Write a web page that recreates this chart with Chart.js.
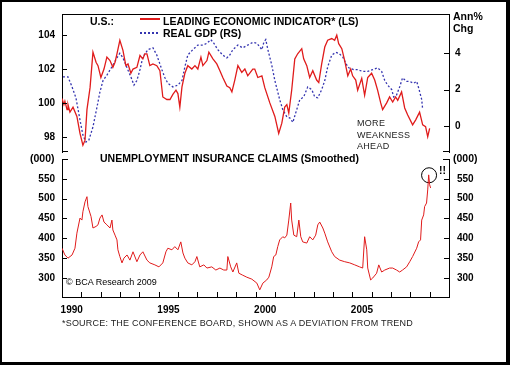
<!DOCTYPE html>
<html>
<head>
<meta charset="utf-8">
<script src="https://cdn.jsdelivr.net/npm/chart.js@4/dist/chart.umd.min.js"></script>
<style>
  html, body { margin: 0; padding: 0; background: #fff; }
  #frame {
    position: absolute; left: 0; top: 0; width: 510px; height: 365px;
    box-sizing: border-box; border: solid #000; border-width: 2px 4px 3px 2px;
  }
  canvas { position: absolute; left: 0; }
  #top { top: 0; }
  #bot { top: 150px; }
  .t {
    position: absolute; font-family: 'Liberation Sans', Arial, sans-serif;
    font-size: 10.5px; font-weight: bold; line-height: 12px; white-space: nowrap; color: #000;
  }
  .n { font-weight: normal; }
</style>
</head>
<body>
<div id="frame"></div>
<canvas id="top" width="510" height="160"></canvas>
<canvas id="bot" width="510" height="170"></canvas>

<div class="t" style="left:90px;top:15px">U.S.:</div>
<div style="position:absolute;left:140px;top:18px;width:20px;height:1.5px;background:#e01b1b"></div>
<div class="t" style="left:163px;top:15px">LEADING ECONOMIC INDICATOR* (LS)</div>
<div style="position:absolute;left:140px;top:32px;width:20px;height:1.5px;background:repeating-linear-gradient(to right,#3535b0 0 2px,transparent 2px 4px)"></div>
<div class="t" style="left:163px;top:27px">REAL GDP (RS)</div>
<div class="t" style="left:453px;top:10px">Ann%</div>
<div class="t" style="left:453px;top:22px">Chg</div>
<div class="t n" style="left:357px;top:117px;font-size:9px;letter-spacing:0.3px;color:#222">MORE</div>
<div class="t n" style="left:357px;top:129px;font-size:9px;letter-spacing:0.3px;color:#222">WEAKNESS</div>
<div class="t n" style="left:357px;top:140px;font-size:9px;letter-spacing:0.3px;color:#222">AHEAD</div>
<div class="t" style="left:30px;top:152px">(000)</div>
<div class="t" style="left:453px;top:152px">(000)</div>
<div class="t" style="left:100px;top:152px">UNEMPLOYMENT INSURANCE CLAIMS (Smoothed)</div>
<div class="t" style="left:439px;top:164px">!!</div>
<div class="t n" style="left:66px;top:276px;font-size:9px">© BCA Research 2009</div>
<div class="t n" style="left:62px;top:317px;font-size:9px;letter-spacing:0.2px;color:#222">*SOURCE: THE CONFERENCE BOARD, SHOWN AS A DEVIATION FROM TREND</div>

<script>
// --- Data (decimal years) ---
const leiYears = [1990.00,1990.10,1990.15,1990.26,1990.31,1990.41,1990.57,1990.77,1990.93,1991.08,1991.19,1991.29,1991.45,1991.60,1991.76,1991.86,1992.01,1992.17,1992.32,1992.48,1992.63,1992.74,1992.84,1992.99,1993.15,1993.30,1993.41,1993.56,1993.67,1993.87,1994.03,1994.18,1994.28,1994.39,1994.54,1994.70,1994.90,1995.06,1995.21,1995.42,1995.58,1995.73,1995.89,1995.99,1996.09,1996.20,1996.35,1996.50,1996.71,1996.87,1997.02,1997.18,1997.28,1997.49,1997.59,1997.80,1998.00,1998.16,1998.31,1998.52,1998.67,1998.78,1998.93,1999.09,1999.29,1999.45,1999.60,1999.86,1999.96,2000.12,2000.33,2000.48,2000.74,2001.00,2001.20,2001.36,2001.51,2001.62,2001.72,2001.87,2002.03,2002.18,2002.39,2002.49,2002.65,2002.80,2002.96,2003.16,2003.27,2003.42,2003.58,2003.73,2003.94,2004.09,2004.20,2004.30,2004.46,2004.61,2004.77,2004.92,2005.02,2005.18,2005.28,2005.49,2005.64,2005.80,2006.00,2006.16,2006.31,2006.47,2006.57,2006.78,2006.93,2007.09,2007.24,2007.35,2007.55,2007.71,2007.86,2008.12,2008.28,2008.48,2008.64,2008.79,2008.90,2009.00];
const leiValues = [100.26,99.9,100.1,99.6,99.9,99.45,99.75,99.2,98.2,97.5,97.8,99.6,100.9,103.0,102.4,102.2,101.5,102.0,102.7,102.5,102.1,102.4,102.9,103.7,103.1,102.2,102.3,101.75,102.0,102.1,102.8,102.6,102.9,102.9,102.2,102.3,102.2,101.9,100.35,100.2,100.2,100.5,100.75,100.55,99.75,100.95,101.75,102.2,102.0,102.2,102.0,102.7,102.2,102.5,103.0,102.6,102.3,101.9,101.5,101.0,100.9,100.65,101.35,102.2,101.8,102.0,101.6,102.0,102.0,101.5,101.6,100.9,100.0,99.2,98.2,98.8,99.75,99.9,99.4,100.75,102.6,102.9,103.2,102.6,102.2,101.5,101.9,101.35,101.2,102.3,103.3,103.7,103.8,103.7,104.0,103.5,103.2,102.5,101.6,102.0,101.6,101.35,100.75,101.45,100.45,101.5,101.75,101.35,100.75,100.0,99.6,100.0,100.35,100.05,100.35,100.15,100.65,99.7,99.3,98.7,99.0,99.45,98.7,98.6,98.0,98.5];

const gdpYears = [1990.05,1990.31,1990.52,1990.72,1990.93,1991.08,1991.24,1991.39,1991.60,1991.81,1991.96,1992.12,1992.32,1992.58,1992.84,1992.99,1993.15,1993.36,1993.56,1993.72,1993.87,1994.03,1994.18,1994.44,1994.70,1994.90,1995.16,1995.32,1995.47,1995.73,1995.99,1996.20,1996.35,1996.50,1996.76,1997.02,1997.28,1997.49,1997.69,1997.85,1998.05,1998.31,1998.52,1998.67,1998.83,1999.09,1999.34,1999.60,1999.86,2000.07,2000.22,2000.33,2000.43,2000.53,2000.64,2000.84,2001.00,2001.25,2001.41,2001.62,2001.77,2001.93,2002.13,2002.29,2002.49,2002.70,2002.91,2003.06,2003.22,2003.42,2003.58,2003.73,2003.94,2004.15,2004.30,2004.51,2004.66,2004.82,2005.07,2005.28,2005.54,2005.80,2006.06,2006.31,2006.52,2006.68,2006.83,2007.04,2007.14,2007.29,2007.45,2007.60,2007.81,2007.97,2008.17,2008.33,2008.43,2008.59,2008.64];
const gdpValues = [2.7,2.7,2.15,1.55,0.33,-0.5,-0.88,-0.77,-0.05,1.05,1.87,2.5,2.8,3.25,3.75,4.0,3.75,3.2,2.7,2.25,2.5,3.1,3.8,4.2,4.3,3.9,3.1,2.65,2.35,2.15,2.25,2.5,3.25,3.9,4.2,4.45,4.45,4.55,4.75,4.55,4.2,3.9,3.75,3.9,4.2,4.45,4.3,4.45,4.6,4.55,4.35,4.2,4.6,4.75,4.2,3.35,2.5,1.45,0.9,0.5,0.45,0.2,0.9,1.45,1.6,2.15,2.0,1.6,1.55,2.0,2.5,3.25,3.9,4.05,4.0,3.8,3.45,3.2,3.1,3.1,3.0,3.0,3.1,3.2,3.0,2.5,2.25,2.0,1.6,1.7,2.15,2.65,2.45,2.45,2.35,2.45,2.1,1.45,0.9];

const claimYears = [1990.00,1990.15,1990.31,1990.52,1990.67,1990.77,1990.93,1991.03,1991.08,1991.19,1991.29,1991.34,1991.50,1991.60,1991.76,1991.86,1991.96,1992.07,1992.17,1992.32,1992.48,1992.58,1992.63,1992.74,1992.84,1992.89,1992.99,1993.10,1993.20,1993.36,1993.51,1993.67,1993.87,1994.03,1994.18,1994.39,1994.54,1994.80,1995.01,1995.21,1995.37,1995.47,1995.68,1995.83,1995.99,1996.14,1996.25,1996.35,1996.50,1996.71,1996.87,1996.97,1997.12,1997.33,1997.49,1997.74,1997.95,1998.16,1998.36,1998.52,1998.57,1998.72,1998.83,1999.03,1999.14,1999.34,1999.55,1999.81,2000.07,2000.22,2000.38,2000.58,2000.69,2000.84,2000.94,2001.05,2001.15,2001.25,2001.41,2001.51,2001.62,2001.72,2001.82,2001.87,2001.98,2002.13,2002.24,2002.34,2002.44,2002.65,2002.80,2002.96,2003.11,2003.22,2003.32,2003.48,2003.58,2003.73,2003.94,2004.09,2004.35,2004.61,2004.87,2005.13,2005.38,2005.54,2005.64,2005.75,2005.80,2005.95,2006.06,2006.26,2006.37,2006.52,2006.68,2006.93,2007.09,2007.29,2007.45,2007.60,2007.81,2007.97,2008.12,2008.33,2008.43,2008.53,2008.59,2008.69,2008.74,2008.84,2008.90,2008.95,2009.00,2009.05];
const claimValues = [375,358,350,358,375,413,451,446,467,492,505,480,455,426,430,434,451,459,441,434,426,446,421,408,396,371,354,338,350,358,345,366,341,358,366,345,338,333,328,338,366,375,371,379,371,391,363,350,338,333,341,354,328,333,325,328,320,325,320,320,354,328,315,338,312,307,302,297,287,270,287,295,302,328,354,358,379,396,404,401,408,446,489,446,408,404,446,404,391,388,404,396,408,434,441,426,413,391,366,354,345,341,338,333,328,325,404,371,325,295,300,312,333,315,320,325,325,320,315,320,328,341,354,375,391,396,446,459,480,489,522,560,535,527];

// circled latest reading
const circleYear = [2008.97];
const circleValue = [559];

// --- Axis ticks ---
const xLabels = [1990, 1995, 2000, 2005];
const leiTicks = [98, 100, 102, 104];
const gdpTicks = [0, 2, 4];
const claimTicks = [300, 350, 400, 450, 500, 550];

const pts = (xs, ys) => xs.map((x, i) => ({ x, y: ys[i] }));

Chart.defaults.font.family = "'Liberation Sans', Arial, sans-serif";
Chart.defaults.font.size = 10;
Chart.defaults.font.weight = 'bold';
Chart.defaults.color = '#000';

// inward tick marks, corner ticks and optional top frame line
const tickMarks = {
  id: 'tickMarks',
  afterDraw(chart, args, opts) {
    const { ctx, chartArea: a } = chart;
    ctx.save();
    ctx.strokeStyle = '#000';
    ctx.lineWidth = 1;
    ctx.beginPath();
    Object.values(chart.scales).forEach(s => {
      if (!s.options.display) return;
      s.ticks.forEach(t => {
        const p = Math.round(s.getPixelForValue(t.value)) + 0.5;
        if (s.position === 'left') { ctx.moveTo(s.right, p); ctx.lineTo(s.right + 5, p); }
        else if (s.position === 'right') { ctx.moveTo(s.left, p); ctx.lineTo(s.left - 5, p); }
        else if (s.position === 'bottom') { ctx.moveTo(p, s.top); ctx.lineTo(p, s.top - 5); }
      });
    });
    const corner = y => {
      ctx.moveTo(a.left, y); ctx.lineTo(a.left + 6, y);
      ctx.moveTo(a.right, y); ctx.lineTo(a.right - 6, y);
    };
    if (opts.top) { ctx.moveTo(a.left, a.top + 0.5); ctx.lineTo(a.right + 1, a.top + 0.5); }
    if (opts.bottomCorners) corner(a.bottom - 0.5);
    if (opts.topCorners) corner(a.top + 0.5);
    ctx.stroke();
    ctx.restore();
  }
};

const axisLine = { drawOnChartArea: false, drawTicks: false };
const border = { display: true, color: '#000', width: 1 };

function yAxis(pos, min, max, tickList, width, pad) {
  return {
    position: pos, min, max,
    grid: axisLine, border,
    afterBuildTicks: s => { s.ticks = tickList.map(v => ({ value: v })); },
    // fixed width, and no label padding pushed into the layout
    afterFit: s => { s.width = width; s.paddingTop = 0; s.paddingBottom = 0; },
    ticks: { padding: pad },
  };
}

// --- Top panel: LEI and real GDP ---
new Chart(document.getElementById('top'), {
  type: 'line',
  data: {
    datasets: [
      { data: pts(leiYears, leiValues), yAxisID: 'yL', borderColor: '#e01b1b', borderWidth: 1.3, pointRadius: 0, tension: 0 },
      { data: pts(gdpYears, gdpValues), yAxisID: 'yR', borderColor: '#3535b0', borderWidth: 1.3, borderDash: [2, 2], pointRadius: 0, tension: 0 },
    ],
  },
  options: {
    responsive: false, animation: false, events: [],
    layout: { padding: { top: 14, bottom: 8, left: 0, right: 0 } },
    plugins: { legend: { display: false }, tooltip: { enabled: false }, tickMarks: { top: true, bottomCorners: true } },
    scales: {
      x: { type: 'linear', min: 1990, max: 2010, display: false },
      yL: yAxis('left', 97.1, 105.25, leiTicks, 62, 7),
      yR: yAxis('right', -1.43, 6.16, gdpTicks, 61, 6),
    },
  },
  plugins: [tickMarks],
});

// --- Bottom panel: unemployment insurance claims ---
new Chart(document.getElementById('bot'), {
  type: 'line',
  data: {
    datasets: [
      { data: pts(claimYears, claimValues), yAxisID: 'yC', borderColor: '#e01b1b', borderWidth: 1, pointRadius: 0, tension: 0 },
      { data: pts(circleYear, circleValue), yAxisID: 'yC', showLine: false, pointRadius: 7.5, pointBorderWidth: 1,
        pointBorderColor: '#000', pointBackgroundColor: 'rgba(0,0,0,0)' },
    ],
  },
  options: {
    responsive: false, animation: false, events: [],
    layout: { padding: { top: 9, bottom: 0, left: 0, right: 0 } },
    plugins: { legend: { display: false }, tooltip: { enabled: false }, tickMarks: { topCorners: true } },
    scales: {
      x: {
        type: 'linear', min: 1990, max: 2010,
        grid: axisLine, border,
        afterFit: s => { s.height = 23; },
        ticks: { stepSize: 1, autoSkip: false, maxRotation: 0, padding: 7, labelOffset: 9.7,
                 callback: v => xLabels.includes(v) ? String(v) : '' },
      },
      yC: yAxis('left', 252, 600, claimTicks, 62, 7),
      yC2: yAxis('right', 252, 600, claimTicks, 61, 8),
    },
  },
  plugins: [tickMarks],
});
</script>
</body>
</html>
